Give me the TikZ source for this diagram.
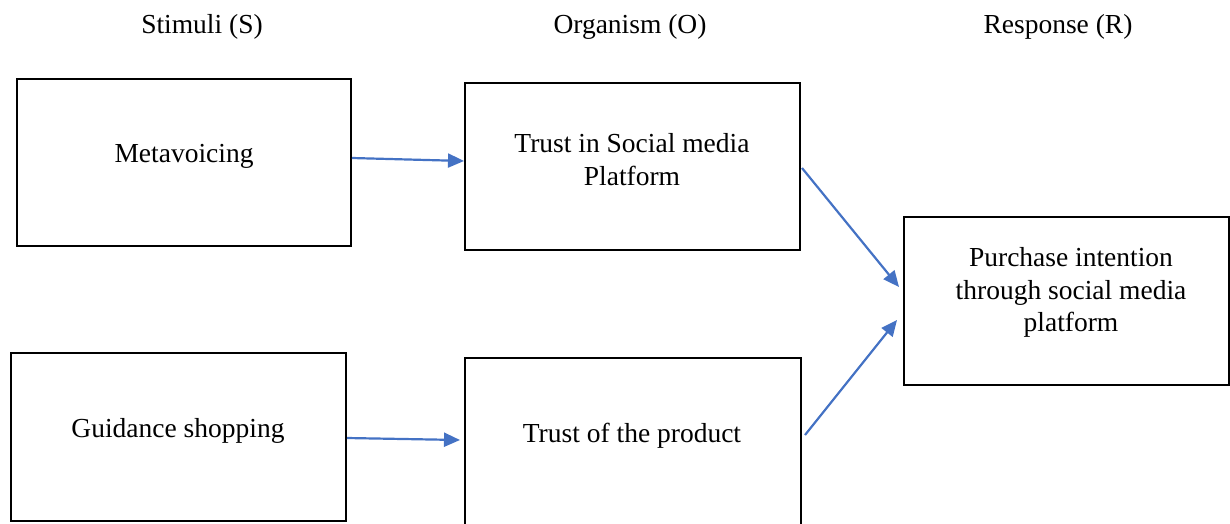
\documentclass[tikz,border=0pt]{standalone}
\usepackage{fontspec}
\setmainfont{Liberation Serif}
\usetikzlibrary{arrows.meta}
\definecolor{arrowblue}{HTML}{4472C4}
\begin{document}
\begin{tikzpicture}[x=1pt,y=-1pt,
  box/.style={draw=black, line width=2pt, inner sep=0pt},
  txt/.style={font=\fontsize{27.5}{32.5}\selectfont, align=center, inner sep=0pt},
  conn/.style={draw=arrowblue, line width=2.2pt, -{Triangle[length=16pt,width=14pt]}}]
\useasboundingbox (0,0) rectangle (1230,523);
% titles
\node[txt] (ts) at (202,27) {Stimuli (S)};
\node[txt] (to) at (630,27) {Organism (O)};
\node[txt] (tr) at (1058,27) {Response (R)};
% boxes
\node[box, minimum width=334pt, minimum height=167pt] (M) at (184,162.5) {};
\node[box, minimum width=335pt, minimum height=167pt] (TP) at (632.5,166.5) {};
\node[box, minimum width=335pt, minimum height=168pt] (G) at (178.5,437) {};
\node[box, minimum width=336pt, minimum height=167pt] (TR) at (633,441.5) {};
\node[box, minimum width=325pt, minimum height=168pt] (P) at (1066.5,301) {};
% box texts
\node[txt] (Mt) at (184,156) {Metavoicing};
\node[txt] (TPt) at (632,159.5) {Trust in Social media\\Platform};
\node[txt] (Gt) at (178,431) {Guidance shopping};
\node[txt] (TRt) at (632,436) {Trust of the product};
\node[txt] (Pt) at (1071,292.5) {Purchase intention\\through social media\\platform};
% connectors
\draw[conn] ([yshift=4.5pt]M.east) -- ([yshift=5.5pt]TP.west);
\draw[conn] ([yshift=-1pt]G.east) -- ([yshift=1.5pt,xshift=-4pt]TR.west);
\draw[conn] ([yshift=-1.5pt,xshift=1pt]TP.east) -- ([yshift=14pt,xshift=-4pt]P.west);
\draw[conn] ([yshift=6.5pt,xshift=3pt]TR.east) -- ([yshift=-19pt,xshift=-6pt]P.west);
\end{tikzpicture}
\end{document}
